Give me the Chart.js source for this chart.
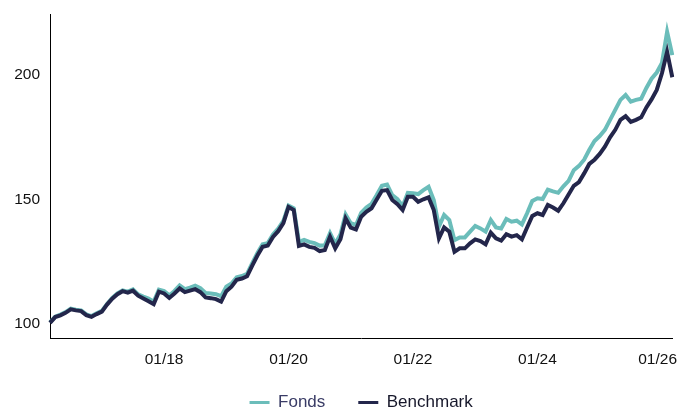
<!DOCTYPE html>
<html>
<head>
<meta charset="utf-8">
<script src="https://cdn.jsdelivr.net/npm/chart.js@4.4.1/dist/chart.umd.min.js"></script>
<style>
  html, body { margin: 0; padding: 0; background: #fff; }
  #wrap { width: 677px; height: 407px; }
</style>
</head>
<body>
<div id="wrap"><canvas id="perfChart"></canvas></div>
<script>
// monthly values, 03/2016 .. 03/2026, indexed to 100
const startYear = 2016;
const startMonth = 3;

const fonds = [
  100.7, 103.0, 103.8, 104.8, 106.2, 105.8, 105.5, 103.9, 103.2, 104.3,
  105.3, 108.1, 110.5, 112.3, 113.5, 113.0, 113.9, 111.9, 111.0, 110.2,
  109.0, 113.8, 113.2, 111.5, 113.3, 115.5, 114.0, 114.6, 115.4, 114.4,
  112.5, 112.3, 112.0, 111.2, 115.0, 116.3, 118.8, 119.3, 120.2, 124.5,
  128.5, 132.0, 132.5, 136.0, 138.3, 141.4, 147.6, 146.5, 133.0, 133.8,
  133.0, 132.5, 131.5, 131.6, 136.5, 132.3, 136.0, 144.0, 140.5, 139.8,
  144.6, 146.8, 148.3, 151.8, 155.5, 156.0, 151.8, 150.2, 147.3, 152.7,
  152.5, 152.2, 153.8, 155.1, 149.8, 139.1, 143.8, 141.8, 133.7, 134.8,
  134.8, 137.1, 139.4, 138.4, 137.1, 141.8, 138.8, 138.4, 142.2, 141.1,
  141.5, 140.0, 144.5, 149.4, 150.5, 150.2, 154.0, 153.3, 152.7, 155.3,
  157.5, 161.8, 163.5, 166.0, 170.0, 173.5, 175.5, 178.0, 182.0, 186.0,
  190.0, 192.0, 189.3, 190.0, 190.5, 194.8, 198.5, 201.0, 204.8, 217.4,
  208.0
];

const benchmark = [
  100.5, 102.8, 103.5, 104.5, 105.9, 105.5, 105.2, 103.6, 102.9, 104.0,
  105.0, 107.8, 110.2, 112.0, 113.2, 112.6, 113.4, 111.4, 110.3, 109.2,
  108.0, 113.0, 112.3, 110.5, 112.3, 114.3, 112.8, 113.4, 114.0, 112.8,
  110.7, 110.4, 110.0, 109.0, 113.2, 115.0, 117.8, 118.3, 119.2, 123.5,
  127.5, 131.0, 131.5, 135.0, 137.3, 140.5, 147.0, 145.8, 131.4, 132.0,
  131.0, 130.6, 129.3, 129.7, 135.1, 130.4, 134.1, 142.4, 138.7, 138.0,
  143.1, 145.1, 146.5, 150.0, 153.5, 153.8, 149.8, 148.1, 145.8, 151.1,
  151.1, 149.1, 150.1, 150.9, 145.8, 134.4, 138.8, 137.1, 129.0, 130.4,
  130.4, 132.4, 134.0, 133.3, 132.0, 136.7, 134.4, 133.5, 136.1, 135.1,
  135.7, 134.0, 138.8, 143.4, 144.5, 143.8, 147.8, 146.8, 145.5, 148.5,
  152.0, 155.5, 157.0, 160.5, 164.3, 166.0, 168.3, 171.2, 175.0, 178.0,
  182.0, 183.5, 181.2, 182.0, 183.0, 187.0, 190.2, 194.0, 200.7, 209.3,
  199.1
];

const xTickLabels = ['01/18', '01/20', '01/22', '01/24', '01/26'];
const yTickValues = [100, 150, 200];
const seriesNames = ['Fonds', 'Benchmark'];

const months = [];
for (let i = 0; i < fonds.length; i++) {
    const n = startMonth - 1 + i;
    const m = (n % 12) + 1;
    const y = (startYear + Math.floor(n / 12)) % 100;
    months.push(String(m).padStart(2, '0') + '/' + String(y).padStart(2, '0'));
}

const TEAL = '#6bbdba';
const NAVY = '#23264b';
const legendTextColors = ['#3a3c66', '#16172a'];
const FONT = 'Liberation Sans, Arial, sans-serif';

// compact legend placed close under the axis, edge tick labels kept inside the canvas
const layoutTweaksPlugin = {
    id: 'layoutTweaks',
    beforeInit(chart, args, options) {
        const originalFit = chart.legend.fit;
        chart.legend.fit = function fit() {
            originalFit.bind(chart.legend)();
            if (options?.legendHeight) this.height = options.legendHeight;
        };
    },
    afterLayout(chart, args, options) {
        const lg = chart.legend;
        if (options?.legendTop) lg.top = options.legendTop;
        lg.bottom = chart.height;
        lg.left += options?.legendDx || 0;
        lg.right += options?.legendDx || 0;
    },
    beforeDraw(chart) {
        const ctx = chart.ctx;
        chart.scales.x.getLabelItems().forEach(item => {
            if (!item.label) return;
            ctx.font = item.font.string;
            const half = ctx.measureText(item.label).width / 2;
            const t = item.options.translation;
            if (t[0] + half > chart.width) t[0] = chart.width - half;
        });
    }
};

new Chart(document.getElementById('perfChart'), {
    type: 'line',
    data: {
        labels: months,
        datasets: [{
            label: seriesNames[0],
            data: fonds,
            borderColor: TEAL,
            backgroundColor: TEAL,
            borderWidth: 4,
            pointRadius: 0,
            tension: 0,
            order: 1
        }, {
            label: seriesNames[1],
            data: benchmark,
            borderColor: NAVY,
            backgroundColor: NAVY,
            borderWidth: 4,
            pointRadius: 0,
            tension: 0,
            order: 0
        }]
    },
    plugins: [layoutTweaksPlugin],
    options: {
        responsive: true,
        maintainAspectRatio: false,
        animation: false,
        layout: {
            padding: { left: 0, right: 4.7, top: 14, bottom: 0 }
        },
        scales: {
            x: {
                grid: { display: false, drawTicks: false },
                border: { display: true, color: '#000', width: 1 },
                afterFit(scale) {
                    scale.height = 30;
                    scale.paddingLeft = 0;
                    scale.paddingRight = 0;
                },
                ticks: {
                    autoSkip: false,
                    maxRotation: 0,
                    padding: 12,
                    color: '#111',
                    font: { family: FONT, size: 15.5 },
                    callback(value) {
                        const l = this.getLabelForValue(value);
                        return xTickLabels.includes(l) ? l : null;
                    }
                }
            },
            y: {
                min: 94.4,
                max: 224.5,
                grid: { display: false, drawTicks: false },
                border: { display: true, color: '#000', width: 1 },
                afterFit(scale) {
                    scale.width = 50;
                    scale.paddingTop = 0;
                    scale.paddingBottom = 0;
                },
                afterBuildTicks(scale) {
                    scale.ticks = yTickValues.map(v => ({ value: v }));
                },
                ticks: {
                    padding: 10,
                    color: '#111',
                    font: { family: FONT, size: 15.5 }
                }
            }
        },
        plugins: {
            tooltip: { enabled: false },
            legend: {
                position: 'bottom',
                fullSize: false,
                labels: {
                    boxWidth: 20,
                    boxHeight: 3,
                    padding: 33,
                    font: { family: FONT, size: 17 },
                    generateLabels(chart) {
                        return chart.data.datasets.map((ds, i) => ({
                            text: ds.label,
                            fillStyle: ds.borderColor,
                            strokeStyle: ds.borderColor,
                            lineWidth: 0,
                            fontColor: legendTextColors[i],
                            hidden: false,
                            datasetIndex: i
                        }));
                    }
                }
            },
            layoutTweaks: { legendHeight: 39, legendTop: 361, legendDx: 0 }
        }
    }
});
</script>
</body>
</html>
